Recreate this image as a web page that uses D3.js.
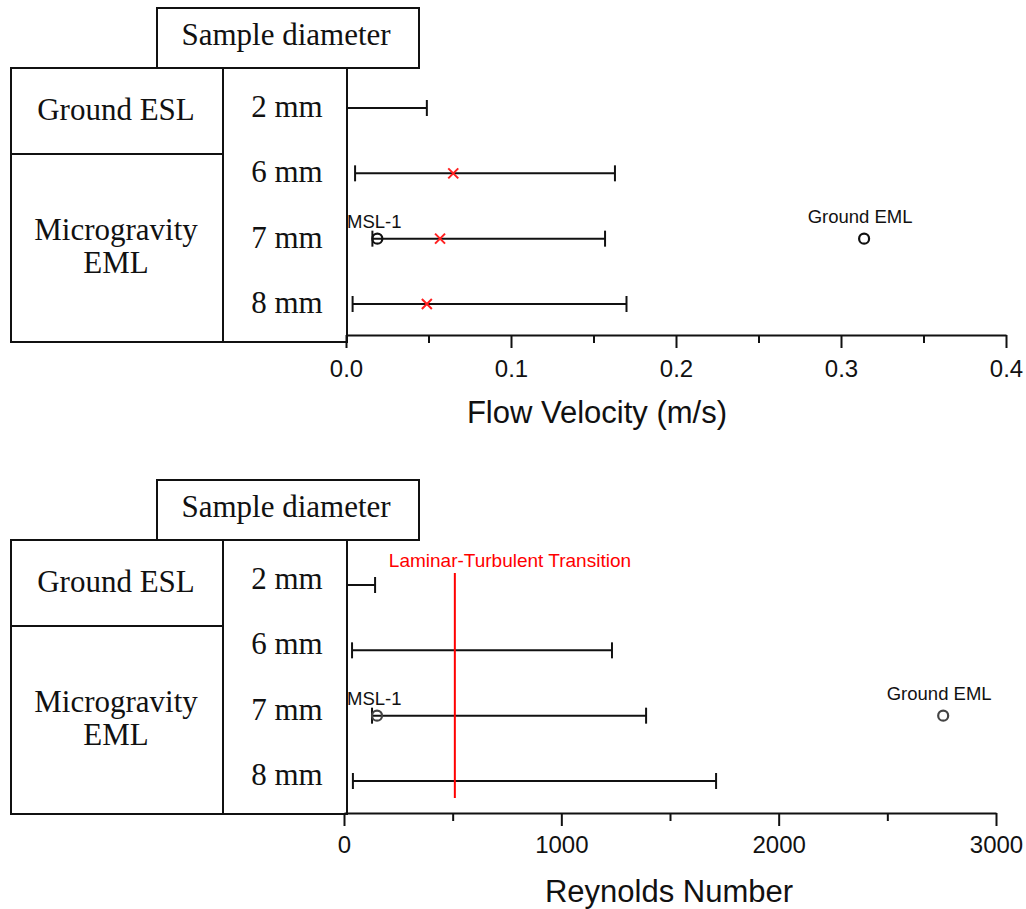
<!DOCTYPE html>
<html>
<head>
<meta charset="utf-8">
<script src="https://cdn.jsdelivr.net/npm/d3@7"></script>
<style>
  body { margin: 0; background: #fff; }
</style>
</head>
<body>
<div id="chart"></div>
<script>
// Rows (sample diameter) and table groups
const rows = ['2 mm', '6 mm', '7 mm', '8 mm']
const groups = [
  { label: ['Ground ESL'], rows: ['2 mm'] },
  { label: ['Microgravity', 'EML'], rows: ['6 mm', '7 mm', '8 mm'] },
]

// Flow velocity (m/s): range bars + red crosses
const velLow   = [0, 0.0055, 0.016, 0.004]
const velHigh  = [0.049, 0.163, 0.157, 0.170]
const velCross = [null, 0.065, 0.057, 0.049]
const velTicks = [0, 0.1, 0.2, 0.3, 0.4]
const velMinor = [0.05, 0.15, 0.25, 0.35]

// Reynolds number: range bars
const reLow   = [0, 37, 129, 41]
const reHigh  = [143, 1233, 1390, 1712]
const reTicks = [0, 1000, 2000, 3000]
const reMinor = [500, 1500, 2500]
const reTransition = 510

// Single points
const msl1      = { row: '7 mm', vel: 0.019, re: 152 }
const groundEml = { row: '7 mm', vel: 0.314, re: 2757 }

const W = 1026, H = 909
const INK = '#111'
const SERIF = "'Liberation Serif', 'Times New Roman', serif"
const SANS  = "'Liberation Sans', Arial, sans-serif"

const svg = d3.select('#chart').append('svg')
  .attr('width', W).attr('height', H)

// Table on the left — drawn in top-panel coordinates, shifted by offset
function drawTable(offset) {
  const t = svg.append('g').attr('transform', `translate(0,${offset})`)
    .attr('fill', 'none').attr('stroke', INK).attr('stroke-width', 2)
  t.append('rect').attr('x', 157).attr('y', 8).attr('width', 262).attr('height', 60)
  t.append('rect').attr('x', 11).attr('y', 68).attr('width', 336).attr('height', 274)
  t.append('line').attr('x1', 223).attr('x2', 223).attr('y1', 68).attr('y2', 342)
  t.append('line').attr('x1', 11).attr('x2', 223).attr('y1', 154).attr('y2', 154)

  const txt = svg.append('g').attr('transform', `translate(0,${offset})`)
    .attr('font-family', SERIF).attr('font-size', 31).attr('fill', INK)
    .attr('text-anchor', 'middle')
  txt.append('text').attr('x', 286).attr('y', 45).text('Sample diameter')

  const yt = d3.scalePoint().domain(rows).range([108, 304])
  txt.selectAll('.rowlab').data(rows).join('text')
    .attr('class', 'rowlab')
    .attr('x', 287).attr('y', d => yt(d) + 9)
    .text(d => d)

  // group labels
  txt.append('text').attr('x', 116).attr('y', 120).text(groups[0].label[0])
  txt.append('text').attr('x', 116).attr('y', 240).text(groups[1].label[0])
  txt.append('text').attr('x', 116).attr('y', 273).text(groups[1].label[1])
}

function drawPanel(p) {
  const x = d3.scaleLinear().domain(p.domain).range(p.xRange)
  const y = d3.scalePoint().domain(rows).range(p.rowRange)
  const g = svg.append('g')

  // major ticks + labels
  g.append('g')
    .attr('transform', `translate(0,${p.axisY})`)
    .call(d3.axisBottom(x).tickValues(p.ticks).tickFormat(p.fmt)
      .tickSize(13).tickSizeOuter(0).tickPadding(p.pad))
    .call(a => a.select('.domain').attr('stroke', INK).attr('stroke-width', 2))
    .call(a => a.selectAll('.tick line').attr('stroke', INK).attr('stroke-width', 2))
    .call(a => a.selectAll('.tick text').attr('fill', INK)
      .attr('font-size', 24).attr('font-family', SANS))

  // minor ticks
  g.append('g')
    .attr('transform', `translate(0,${p.axisY})`)
    .call(d3.axisBottom(x).tickValues(p.minor).tickFormat('').tickSize(8).tickSizeOuter(0))
    .call(a => a.select('.domain').remove())
    .call(a => a.selectAll('.tick line').attr('stroke', INK).attr('stroke-width', 2))

  // axis title
  g.append('text')
    .attr('x', p.titleX).attr('y', p.titleY)
    .attr('text-anchor', 'middle')
    .attr('font-family', SANS).attr('font-size', 31).attr('fill', INK)
    .text(p.title)

  // range bars
  const bars = rows.map((r, i) => ({ row: r, lo: p.low[i], hi: p.high[i] }))
  const bar = g.append('g').attr('stroke', INK).attr('stroke-width', 2)
  bar.selectAll('.rng').data(bars).join('line')
    .attr('x1', d => Math.max(x(d.lo), 347)).attr('x2', d => x(d.hi))
    .attr('y1', d => y(d.row)).attr('y2', d => y(d.row))
  bar.selectAll('.capL').data(bars.filter(d => d.lo > 0)).join('line')
    .attr('x1', d => x(d.lo)).attr('x2', d => x(d.lo))
    .attr('y1', d => y(d.row) - 8).attr('y2', d => y(d.row) + 8)
  bar.selectAll('.capR').data(bars).join('line')
    .attr('x1', d => x(d.hi)).attr('x2', d => x(d.hi))
    .attr('y1', d => y(d.row) - 8).attr('y2', d => y(d.row) + 8)

  // red crosses
  if (p.cross) {
    const cr = rows.map((r, i) => ({ row: r, v: p.cross[i] })).filter(d => d.v != null)
    g.selectAll('.cross').data(cr).join('path')
      .attr('transform', d => `translate(${x(d.v)},${y(d.row)})`)
      .attr('d', 'M-5,-5L5,5M5,-5L-5,5')
      .attr('stroke', '#ff2020').attr('stroke-width', 2).attr('fill', 'none')
  }

  // transition line
  if (p.transition != null) {
    const tx = x(p.transition)
    g.append('line')
      .attr('x1', tx).attr('x2', tx)
      .attr('y1', y.range()[0] - 12).attr('y2', y.range()[1] + 17)
      .attr('stroke', '#ff0000').attr('stroke-width', 2)
    g.append('text')
      .attr('x', tx - 66).attr('y', y.range()[0] - 18)
      .attr('text-anchor', 'start')
      .attr('font-family', SANS).attr('font-size', 19).attr('fill', '#ff0000')
      .text('Laminar-Turbulent Transition')
  }

  // MSL-1 and Ground EML points
  const pts = [
    { name: 'MSL-1', row: msl1.row, v: msl1[p.key], anchor: 'start' },
    { name: 'Ground EML', row: groundEml.row, v: groundEml[p.key], anchor: 'middle' },
  ]
  g.selectAll('.pt').data(pts).join('circle')
    .attr('cx', d => x(d.v)).attr('cy', d => y(d.row))
    .attr('r', 5)
    .attr('fill', 'none').attr('stroke', p.ptColor).attr('stroke-width', 2.2)
  g.selectAll('.ptlab').data(pts).join('text')
    .attr('x', d => d.anchor === 'start' ? 347 : x(d.v) - 4)
    .attr('y', d => y(d.row) + (d.anchor === 'start' ? -11 : -16))
    .attr('text-anchor', d => d.anchor)
    .attr('font-family', SANS).attr('font-size', 18.5).attr('fill', INK)
    .text(d => d.name)
}

drawTable(0)
drawTable(472)

drawPanel({
  key: 'vel', domain: [0, 0.4], xRange: [346, 1006], rowRange: [108, 304],
  axisY: 335, ticks: velTicks, minor: velMinor, fmt: d3.format('.1f'), pad: 12,
  low: velLow, high: velHigh, cross: velCross, transition: null,
  title: 'Flow Velocity (m/s)', titleX: 597, titleY: 423, ptColor: '#111',
})

drawPanel({
  key: 're', domain: [0, 3000], xRange: [344, 996], rowRange: [585, 781],
  axisY: 813, ticks: reTicks, minor: reMinor, fmt: d3.format('d'), pad: 10,
  low: reLow, high: reHigh, cross: null, transition: reTransition,
  title: 'Reynolds Number', titleX: 669, titleY: 902, ptColor: '#444',
})
</script>
</body>
</html>
